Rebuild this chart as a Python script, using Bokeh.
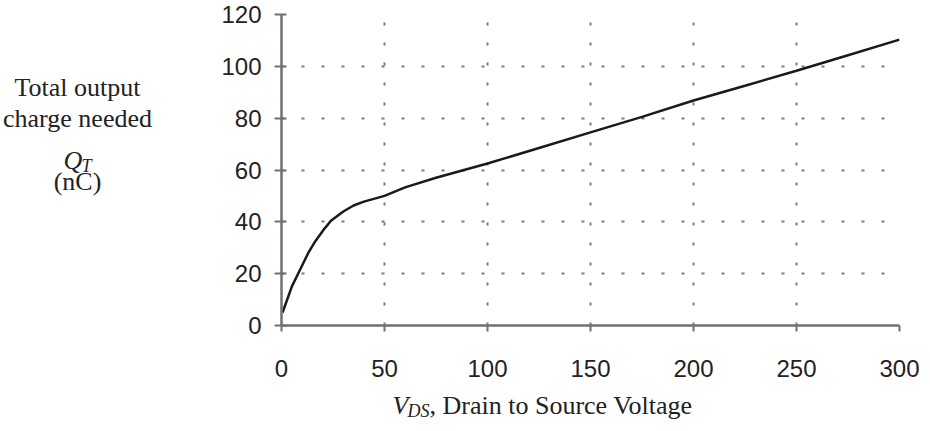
from bokeh.plotting import figure
from bokeh.models import Range1d, FixedTicker
from bokeh.layouts import row, column
from bokeh.core.properties import value
from bokeh.embed import file_html
from bokeh.resources import INLINE

# ---- data ----
vds = [0.5, 3, 5, 9, 13, 16, 20, 24, 30, 35, 40, 50, 60, 75, 100, 125, 150, 175, 200, 225, 250, 275, 300]
qt = [5, 10.5, 15, 21.5, 28, 32, 36.5, 40.4, 44, 46.3, 47.8, 50, 53.3, 57, 62.5, 68.5, 74.5, 80.5, 86.8, 92.5, 98.3, 104.3, 110.3]
x_ticks = [0, 50, 100, 150, 200, 250, 300]
y_ticks = [0, 20, 40, 60, 80, 100, 120]
x_grid = [50, 100, 150, 200, 250, 300]
y_grid = [20, 40, 60, 80, 100, 120]

left_lines = ["Total output", "charge needed", "(nC)"]
x_title = ", Drain to Source Voltage"

SERIF = value("Liberation Serif")
INK = "#222222"

LW, TOPH = 200, 390          # left title panel width, height of top row
MW = 722                     # main figure width
ML, MT, FW, FH = 81, 14, 618, 311
BH = 30                      # bottom title panel height

# page-pixel extents of the frames (page has an 8px margin)
F_TOP, F_BOT = 8 + MT, 8 + MT + FH
B_TOP, B_BOT = 8 + TOPH, 8 + TOPH + BH

# ---------------- main chart ----------------
p = figure(width=MW, height=TOPH, output_backend="svg", toolbar_location=None,
           x_range=Range1d(0, 300), y_range=Range1d(0, 120),
           min_border_left=ML, min_border_right=MW - ML - FW,
           min_border_top=MT, min_border_bottom=TOPH - MT - FH)
p.outline_line_color = None
p.background_fill_color = "white"
p.border_fill_color = "white"

p.xgrid.ticker = FixedTicker(ticks=x_grid)
p.ygrid.ticker = FixedTicker(ticks=y_grid)
for g in (p.xgrid, p.ygrid):
    g.grid_line_color = "#7a7a7a"
    g.grid_line_width = 2
    g.grid_line_dash = "3 17"

p.xaxis.ticker = FixedTicker(ticks=x_ticks)
p.yaxis.ticker = FixedTicker(ticks=y_ticks)
for ax in (p.xaxis, p.yaxis):
    ax.axis_line_color = "#707070"
    ax.axis_line_width = 2.5
    ax.major_tick_line_color = "#707070"
    ax.major_tick_line_width = 2
    ax.minor_tick_line_color = None
    ax.major_label_text_font = "Liberation Sans"
    ax.major_label_text_font_size = "24px"
    ax.major_label_text_color = INK
p.xaxis.major_tick_in = 0
p.xaxis.major_tick_out = 6
p.xaxis.major_label_standoff = 28
p.yaxis.major_tick_in = 5
p.yaxis.major_tick_out = 7
p.yaxis.major_label_standoff = 13

p.line(vds, qt, line_color="#1a1a1a", line_width=2.5)

# ---------------- left title panel: data coords == page pixels ----------------
# (its frame is aligned with the main frame by the row layout)
lp = figure(width=LW, height=TOPH, output_backend="svg", toolbar_location=None,
            x_range=Range1d(8, 8 + LW), y_range=Range1d(F_BOT, F_TOP), title=None,
            x_axis_location=None, y_axis_location=None, min_border=0)
lp.outline_line_color = None
lp.grid.visible = False

cx = 85
lp.text(x=[cx] * 3, y=[95, 126, 189], text=left_lines,
        text_font=SERIF, text_font_size="26px", text_align="center",
        text_baseline="middle", text_color=INK)
lp.text(x=[cx - 14], y=[168], text=["Q"], text_font=SERIF,
        text_font_size="26px", text_font_style="italic", text_align="left",
        text_baseline="alphabetic", text_color=INK)
lp.text(x=[cx + 4], y=[173], text=["T"], text_font=SERIF,
        text_font_size="18px", text_font_style="italic", text_align="left",
        text_baseline="alphabetic", text_color=INK)

# ---------------- bottom title panel: data coords == page pixels ----------------
BW = LW + MW
bp = figure(width=BW, height=BH, output_backend="svg", toolbar_location=None,
            x_range=Range1d(8, 8 + BW), y_range=Range1d(B_BOT, B_TOP), title=None,
            x_axis_location=None, y_axis_location=None, min_border=0)
bp.outline_line_color = None
bp.grid.visible = False

tx, ty = 400, 413
bp.text(x=[tx], y=[ty], text=["V"], text_font=SERIF, text_font_size="26px",
        text_font_style="italic", text_align="left", text_baseline="middle", text_color=INK)
bp.text(x=[tx + 15], y=[ty + 5], text=["DS"], text_font=SERIF,
        text_font_size="18px", text_font_style="italic", text_align="left",
        text_baseline="middle", text_color=INK)
bp.text(x=[tx + 37], y=[ty], text=[x_title], text_font=SERIF, text_font_size="26px",
        text_align="left", text_baseline="middle", text_color=INK)

layout = column(row(lp, p, spacing=0), bp, spacing=0)
open("out.html", "w").write(file_html(layout, INLINE))
